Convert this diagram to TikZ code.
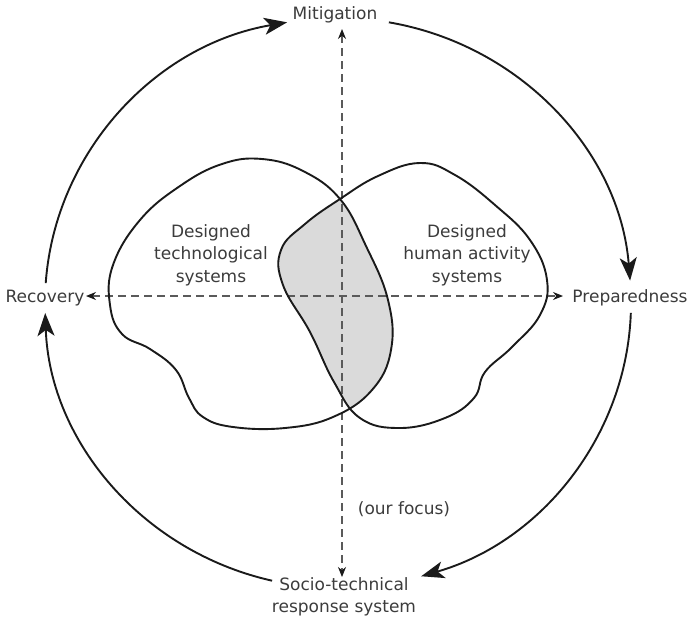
\documentclass[tikz,border=0pt]{standalone}
\usepackage{fontspec}
\setmainfont{DejaVu Sans}
\usetikzlibrary{arrows.meta}
\definecolor{txt}{HTML}{3C3C3C}
\definecolor{ln}{HTML}{1A1A1A}
\definecolor{dsh}{HTML}{5A5A5A}
\definecolor{shadegray}{HTML}{DADADA}
\def\leftblob{plot[smooth cycle, tension=0.7] coordinates {(180,186) (222,164) (262,159) (303,171) (340,199) (366,246) (388,300) (391,350) (372,390) (333,417) (285,428) (233,427) (203,417) (189,398) (176,370) (150,349) (122,334) (110,305) (113,265) (140,220)}}
\def\rightblob{plot[smooth cycle, tension=0.7] coordinates {(340,199) (378,176) (420,163) (455,175) (495,205) (530,240) (547,280) (540,315) (512,347) (485,372) (474,398) (445,418) (400,428) (360,418) (334,382) (310,332) (283,285) (281,250) (305,224)}}
\tikzset{
  lbl/.style={text=txt, font=\fontsize{17}{22.5}\selectfont, inner sep=1pt, align=center},
  cyc/.style={draw=ln, line width=1.9pt, -{Stealth[length=23pt,width=17pt,inset=6pt]}},
  axis/.style={draw=dsh, line width=1.2pt, dash pattern=on 8pt off 5pt, {Stealth[length=10pt,width=8pt,color=ln]}-{Stealth[length=10pt,width=8pt,color=ln]}},
  blob/.style={draw=ln, line width=1.9pt}
}
\begin{document}
\begin{tikzpicture}[x=1pt,y=-1pt]
\path[use as bounding box, fill=white] (0,0) rectangle (689,619);
% shaded overlap
\begin{scope}
  \clip \rightblob;
  \fill[shadegray] \leftblob;
\end{scope}
% axes
\coordinate (o) at (342,296);
\coordinate (top) at (342,29);
\coordinate (bot) at (342,577);
\coordinate (lft) at (86,296);
\coordinate (rgt) at (563,296);
\draw[axis] (top) -- (bot);
\draw[axis] (lft) -- (rgt);
% blobs
\draw[blob] \leftblob;
\draw[blob] \rightblob;
% labels
\node[lbl] (mit) at (335,15) {Mitigation};
\node[lbl] (rec) at (45,298) {Recovery};
\node[lbl] (prep) at (630,298) {Preparedness};
\node[lbl] (soc) at (344,597) {Socio-technical\\response system};
\node[lbl] (tech) at (211,255) {Designed\\technological\\systems};
\node[lbl] (hum) at (467,255) {Designed\\human activity\\systems};
\node[lbl] (foc) at (404,509) {(our focus)};
% cycle arcs
\coordinate (c) at (338,303);
\draw[cyc] (c) ++(184:293 and 285) arc[start angle=184, end angle=260, x radius=293, y radius=285];
\draw[cyc] (c) ++(280:293 and 285) arc[start angle=280, end angle=355.5, x radius=293, y radius=285];
\draw[cyc] (c) ++(2:293 and 285) arc[start angle=2, end angle=73.5, x radius=293, y radius=285];
\draw[cyc] (c) ++(103:293 and 285) arc[start angle=103, end angle=178, x radius=293, y radius=285];
\end{tikzpicture}
\end{document}
